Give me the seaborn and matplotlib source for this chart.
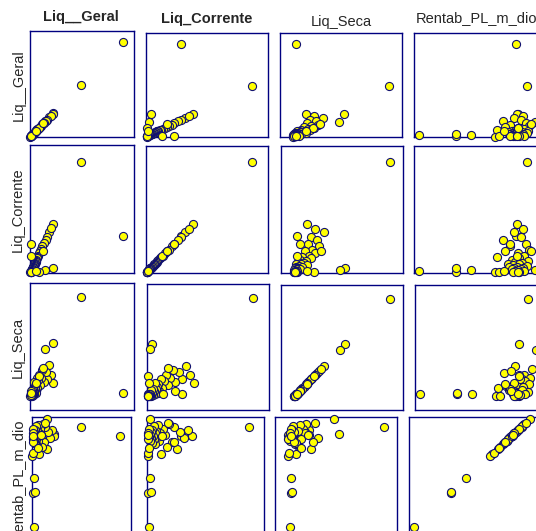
import matplotlib
matplotlib.use("Agg")
import matplotlib.pyplot as plt
import seaborn as sns
import pandas as pd

# Values per company
liq_geral = [11.0, 20.0, 4.9, 3.2, 0.3, 0.2, 0.5, 0.3,
             4.85, 4.1, 4.4, 3.6, 3.3, 2.9, 2.6, 2.3, 2.1, 1.9, 1.7, 1.5, 1.4, 1.3,
             1.2, 1.1, 1.0, 0.9, 0.8, 0.8, 0.7, 0.6, 0.6, 0.5, 0.5, 0.4, 0.3, 0.3,
             0.2, 0.2, 0.1, 0.1, 0.0, 0.05, 0.1, 0.1, 1.9, 1.2, 2.8]
liq_corrente = [20.0, 6.6, 0.9, 0.5, 0.3, 0.2, 0.8, 0.5,
                8.8, 7.3, 8.0, 6.5, 5.9, 5.3, 4.8, 4.2, 3.9, 3.5, 3.1, 2.8, 2.6, 2.3,
                2.1, 2.0, 1.8, 1.6, 1.5, 1.4, 1.3, 1.1, 1.0, 0.9, 0.8, 0.7, 0.6, 0.5,
                0.4, 0.3, 0.2, 0.1, 0.1, 0.05, 5.2, 3.0, 0.2, 0.3, 4.0]
liq_seca = [15.0, 0.9, 8.2, 7.4, 0.8, 0.9, 1.0, 0.9,
            2.4, 5.0, 3.6, 3.0, 4.0, 2.6, 4.3, 3.2, 2.1, 3.6, 2.8, 1.7, 3.1, 1.3,
            2.3, 1.0, 1.9, 1.5, 0.8, 2.5, 1.2, 0.7, 1.6, 1.0, 0.6, 1.4, 0.8, 0.5,
            0.9, 0.6, 0.7, 0.5, 0.5, 0.6, 1.3, 0.9, 3.5, 2.4, 4.6]
rentab = [33.7, 25.6, 27.4, 40.0, -50.0, -21.6, -21.0, -9.5,
          26, 24, 31, 29, 15, 33, 21, 36, 17, 27, 32, 11, 28, 22,
          35, 25, 30, 19, 28, 23, 34, 26, 20, 31, 24, 29, 22, 27,
          32, 25, 28, 23, 9, 12, 21, 26, 27, 16, 37]

cols = ["Liq__Geral", "Liq_Corrente", "Liq_Seca", "Rentab_PL_m_dio"]
df = pd.DataFrame({cols[0]: liq_geral, cols[1]: liq_corrente,
                   cols[2]: liq_seca, cols[3]: rentab})

sns.set_style("white")
plt.rcParams["font.family"] = ["Liberation Sans", "DejaVu Sans"]

W, H = 536, 531
fig = plt.figure(figsize=(W / 100, H / 100), dpi=100)

# panel boxes in pixels: (left, top, right, bottom)
boxes = [
    [(30, 31, 134, 137), (146, 33, 268, 137), (280, 33, 402, 137), (414, 33, 545, 137)],
    [(30, 145, 134, 273), (146, 146, 268, 273), (281, 146, 403, 273), (414, 146, 545, 273)],
    [(30, 283, 134, 410), (147, 284, 269, 410), (281, 285, 403, 410), (415, 285, 546, 410)],
    [(32, 417, 131, 535), (147, 417, 264, 535), (275, 417, 397, 535), (409, 417, 540, 535)],
]

pad_x = {cols[0]: (0.005, 0.12), cols[1]: (0.005, 0.15),
         cols[2]: (0.14, 0.14), cols[3]: (0.045, 0.09)}
pad_y = dict(pad_x)
pad_y[cols[3]] = (0.074, 0.019)


def lims(v, pads):
    lo, hi = df[v].min(), df[v].max()
    r = hi - lo
    return lo - pads[v][0] * r, hi + pads[v][1] * r


navy = "#000080"
for i, yv in enumerate(cols):
    for j, xv in enumerate(cols):
        l, t, r, b = boxes[i][j]
        ax = fig.add_axes([l / W, 1 - b / H, (r - l) / W, (b - t) / H])
        sns.scatterplot(data=df, x=xv, y=yv, ax=ax, color="#ffff00",
                        edgecolor="#101070", linewidth=0.8, s=34,
                        clip_on=False, zorder=3)
        ax.set_xlim(*lims(xv, pad_x))
        ax.set_ylim(*lims(yv, pad_y))
        ax.set_xticks([])
        ax.set_yticks([])
        ax.set_xlabel("")
        ax.set_ylabel("")
        for sp in ax.spines.values():
            sp.set_color(navy)
            sp.set_linewidth(1.0)

# column titles
fig.text(81 / W, 1 - 17 / H, "Liq__Geral", fontsize=10.5, fontweight="bold",
         ha="center", va="center")
fig.text(207 / W, 1 - 19 / H, "Liq_Corrente", fontsize=10.5, fontweight="bold",
         ha="center", va="center")
fig.text(341 / W, 1 - 22 / H, "Liq_Seca", fontsize=10.5, ha="center", va="center")
fig.text(416 / W, 1 - 18 / H, "Rentab_PL_m_dio", fontsize=10.5, ha="left", va="center")

# row labels
fig.text(19 / W, 1 - 85 / H, "Liq__Geral", fontsize=10.5, rotation=90,
         ha="center", va="center")
fig.text(18 / W, 1 - 210 / H, "Liq_Corrente", fontsize=10.5, rotation=90,
         ha="center", va="center")
fig.text(18 / W, 1 - 347 / H, "Liq_Seca", fontsize=10.5, rotation=90,
         ha="center", va="center")
fig.text(18 / W, 1 - 418 / H, "Rentab_PL_m_dio", fontsize=10.5, rotation=90,
         ha="center", va="top")

fig.savefig("out.png", dpi=100)
